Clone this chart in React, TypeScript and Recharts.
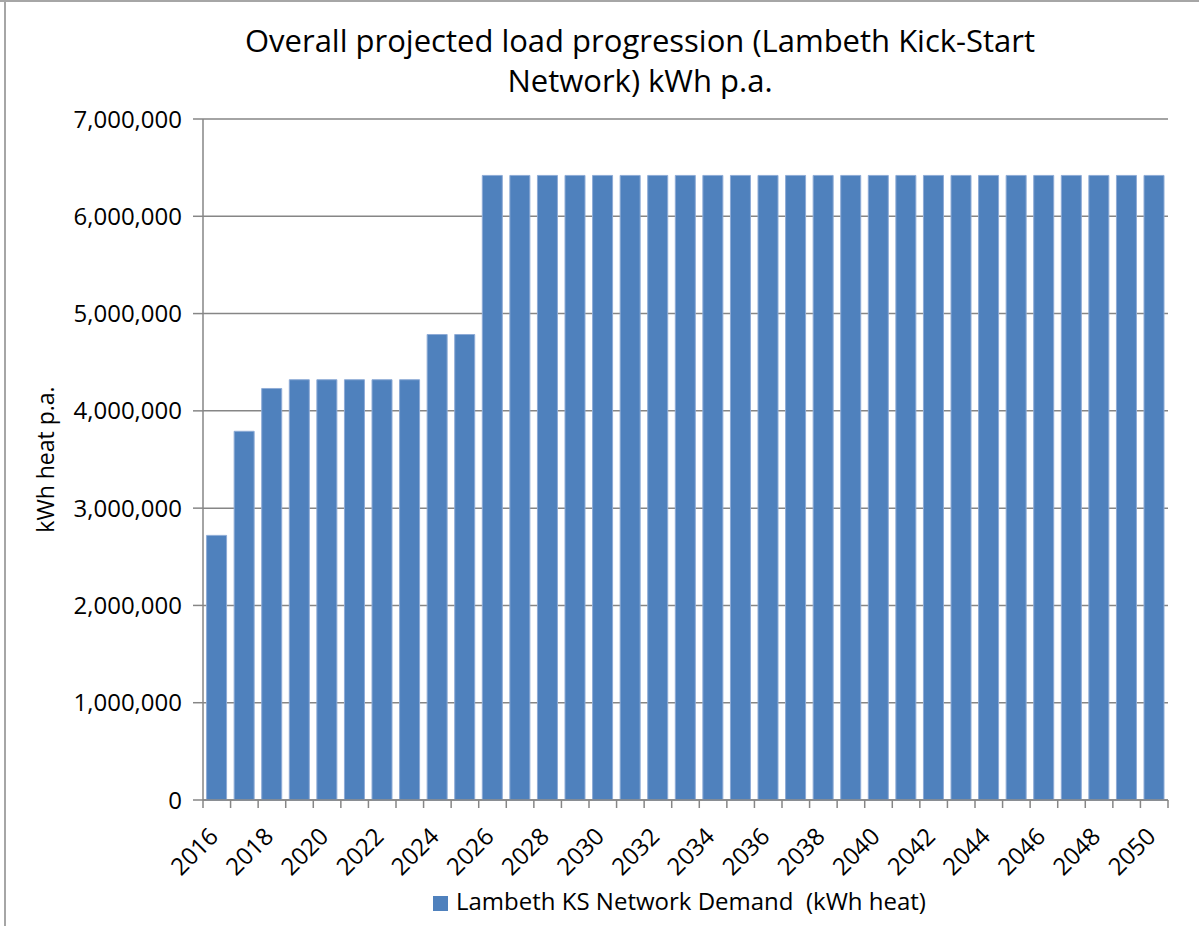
import { BarChart, Bar, XAxis, YAxis, CartesianGrid, Legend } from "recharts";

const years = [
  "2016", "2017", "2018", "2019", "2020", "2021", "2022", "2023", "2024", "2025",
  "2026", "2027", "2028", "2029", "2030", "2031", "2032", "2033", "2034", "2035",
  "2036", "2037", "2038", "2039", "2040", "2041", "2042", "2043", "2044", "2045",
  "2046", "2047", "2048", "2049", "2050",
];

const demand = [
  2720000, 3790000, 4230000, 4320000, 4320000, 4320000, 4320000, 4320000, 4785000, 4785000,
  6420000, 6420000, 6420000, 6420000, 6420000, 6420000, 6420000, 6420000, 6420000, 6420000,
  6420000, 6420000, 6420000, 6420000, 6420000, 6420000, 6420000, 6420000, 6420000, 6420000,
  6420000, 6420000, 6420000, 6420000, 6420000,
];

const yTicks = [0, 1000000, 2000000, 3000000, 4000000, 5000000, 6000000, 7000000];

const data = years.map((year, i) => ({ year, demand: demand[i] }));

const W = 1199;
const H = 926;
const margin = { top: 119, right: 31, bottom: 10, left: 46 };
const yAxisWidth = 157;
const band = (W - margin.left - margin.right - yAxisWidth) / years.length;
const font = "'Open Sans', Calibri, sans-serif";
const axisGray = "#868686";

function YearTick(props: any) {
  const { x, y, payload, index } = props;
  const ax = x + 3;
  const ay = y + 38;
  const isLast = index === years.length - 1;
  return (
    <g>
      <line x1={x - band / 2} y1={y} x2={x - band / 2} y2={y + 8} stroke={axisGray} strokeWidth={1.5} />
      {isLast && (
        <line x1={x + band / 2} y1={y} x2={x + band / 2} y2={y + 8} stroke={axisGray} strokeWidth={1.5} />
      )}
      {index % 2 === 0 && (
        <text
          x={ax}
          y={ay}
          textAnchor="end"
          fill="#000"
          fontSize={24}
          fontFamily={font}
          transform={`rotate(-45, ${ax}, ${ay})`}
        >
          {payload.value}
        </text>
      )}
    </g>
  );
}

export default function App() {
  return (
    <div style={{ position: "absolute", left: 0, top: 0, width: W, height: H, background: "#fff", fontFamily: font }}>
      <div style={{ position: "absolute", left: 0, top: 0, width: W, height: 2, background: "#a6a6a6" }} />
      <div style={{ position: "absolute", left: 4, top: 0, width: 2, height: H, background: "#a6a6a6" }} />
      <div
        style={{
          position: "absolute",
          left: 0,
          top: 20,
          width: 1280,
          textAlign: "center",
          fontSize: 31,
          lineHeight: "40px",
          color: "#000",
        }}
      >
        Overall projected load progression (Lambeth Kick-Start
        <br />
        Network) kWh p.a.
      </div>
      <BarChart width={W} height={H} data={data} margin={margin} barCategoryGap="13%">
        <CartesianGrid vertical={false} stroke={axisGray} strokeWidth={1.5} />
        <XAxis
          dataKey="year"
          interval={0}
          height={84}
          tickSize={0}
          tickMargin={0}
          tickLine={false}
          axisLine={{ stroke: axisGray, strokeWidth: 1.5 }}
          tick={<YearTick />}
        />
        <YAxis
          width={yAxisWidth}
          domain={[0, 7000000]}
          ticks={yTicks}
          interval={0}
          tickSize={10}
          tickMargin={11}
          tickFormatter={(v: number) => v.toLocaleString("en-US")}
          tick={{ fill: "#000", fontSize: 24, fontFamily: font }}
          tickLine={{ stroke: axisGray, strokeWidth: 1.5 }}
          axisLine={{ stroke: axisGray, strokeWidth: 1.5 }}
          label={{
            value: "kWh heat p.a.",
            angle: -90,
            position: "insideLeft",
            offset: 0,
            style: { textAnchor: "middle", fill: "#000", fontSize: 23, fontFamily: font },
          }}
        />
        <Legend
          verticalAlign="bottom"
          align="left"
          iconType="square"
          iconSize={15}
          wrapperStyle={{ left: 433, width: 640, height: 32, fontSize: 24, fontFamily: font }}
          formatter={(value: string) => (
            <span style={{ color: "#000", paddingLeft: 4, whiteSpace: "pre" }}>{value}</span>
          )}
        />
        <Bar
          dataKey="demand"
          name="Lambeth KS Network Demand  (kWh heat)"
          fill="#4f81bd"
          stroke="#8eabd6"
          strokeWidth={1}
          isAnimationActive={false}
        />
      </BarChart>
    </div>
  );
}
